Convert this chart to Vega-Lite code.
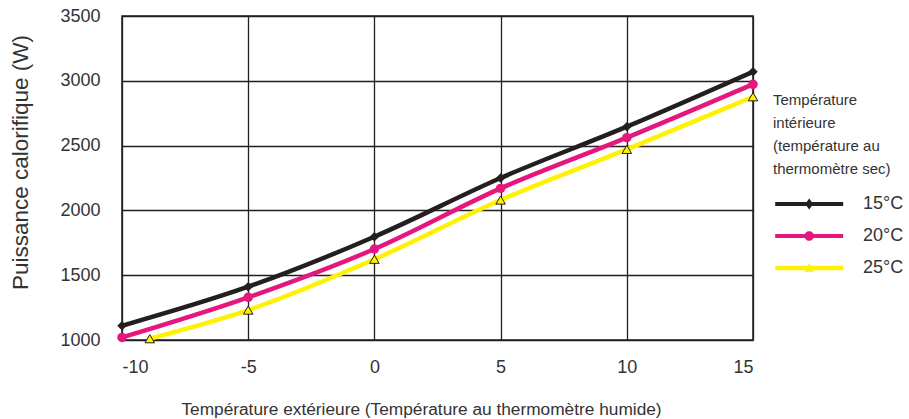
{
  "$schema": "https://vega.github.io/schema/vega-lite/v6.json",
  "width": 631,
  "height": 324,
  "autosize": "none",
  "padding": {"left": 122, "top": 16, "right": 156, "bottom": 79},
  "config": {
    "font": "Liberation Sans",
    "view": {"stroke": "#231f20", "strokeWidth": 1.5},
    "axis": {
      "grid": true,
      "gridColor": "#231f20",
      "gridWidth": 1.3,
      "gridOpacity": 1,
      "domain": false,
      "ticks": false,
      "labelFont": "Liberation Sans",
      "labelFontSize": 18,
      "labelColor": "#333333",
      "titleFont": "Liberation Sans",
      "titleFontWeight": "normal",
      "titleColor": "#333333"
    }
  },
  "data": {
    "values": [
      {"series": "15°C", "t_ext": -10, "power": 1110},
      {"series": "15°C", "t_ext": -5, "power": 1411},
      {"series": "15°C", "t_ext": 0, "power": 1797},
      {"series": "15°C", "t_ext": 5, "power": 2250},
      {"series": "15°C", "t_ext": 10, "power": 2646},
      {"series": "15°C", "t_ext": 15, "power": 3070},
      {"series": "20°C", "t_ext": -10, "power": 1020},
      {"series": "20°C", "t_ext": -5, "power": 1329},
      {"series": "20°C", "t_ext": 0, "power": 1702},
      {"series": "20°C", "t_ext": 5, "power": 2170},
      {"series": "20°C", "t_ext": 10, "power": 2561},
      {"series": "20°C", "t_ext": 15, "power": 2973},
      {"series": "25°C", "t_ext": -8.9, "power": 1010},
      {"series": "25°C", "t_ext": -5, "power": 1231},
      {"series": "25°C", "t_ext": 0, "power": 1623},
      {"series": "25°C", "t_ext": 5, "power": 2080},
      {"series": "25°C", "t_ext": 10, "power": 2471},
      {"series": "25°C", "t_ext": 15, "power": 2877}
    ]
  },
  "encoding": {
    "x": {
      "field": "t_ext",
      "type": "quantitative",
      "scale": {"domain": [-10, 15], "nice": false, "zero": false},
      "axis": {
        "values": [-10, -5, 0, 5, 10, 15],
        "labelExpr": "'' + datum.value",
        "labelPadding": 18,
        "title": "Température extérieure (Température au thermomètre humide)",
        "titleFontSize": 17.3,
        "titleX": 299,
        "titleY": 60
      }
    },
    "y": {
      "field": "power",
      "type": "quantitative",
      "scale": {"domain": [1000, 3500], "nice": false, "zero": false},
      "axis": {
        "values": [1000, 1500, 2000, 2500, 3000, 3500],
        "labelExpr": "'' + datum.value",
        "labelPadding": 22,
        "title": "Puissance calorifique (W)",
        "titleFontSize": 22.5,
        "titleX": -90,
        "titleY": 146
      }
    },
    "color": {
      "field": "series",
      "type": "nominal",
      "scale": {"domain": ["15°C", "20°C", "25°C"], "range": ["#231f20", "#e5177e", "#fff200"]},
      "legend": {
        "orient": "none",
        "legendX": 651,
        "legendY": 77,
        "title": ["Température", "intérieure", "(température au", "thermomètre sec)"],
        "titleFontSize": 15,
        "titleFontWeight": "normal",
        "titleColor": "#333333",
        "titleLineHeight": 23,
        "titlePadding": 18,
        "labelFontSize": 18,
        "labelColor": "#333333",
        "labelOffset": 72,
        "symbolSize": 185,
        "rowPadding": 14,
        "encode": {
          "symbols": {
            "update": {
              "shape": {"signal": "datum.value === '15°C' ? 'M-1,-0.3H9V0.3H-1Z M4,-0.8L4.6,0L4,0.8L3.4,0Z' : datum.value === '20°C' ? 'M-1,-0.3H9V0.3H-1Z M3.3,0A0.7,0.7 0 1,1 4.7,0A0.7,0.7 0 1,1 3.3,0Z' : 'M-1,-0.33H9V0.33H-1Z M4,-0.75L4.7,0.55L3.3,0.55Z'"},
              "fill": {"signal": "scale('color', datum.value)"},
              "stroke": {"value": "transparent"},
              "strokeWidth": {"value": 0},
              "opacity": {"value": 1}
            }
          }
        }
      }
    }
  },
  "layer": [
    {"mark": {"type": "line", "interpolate": "monotone", "strokeWidth": 4.5, "clip": true}},
    {
      "mark": {"type": "point", "filled": true, "opacity": 1, "stroke": "#231f20", "size": 90},
      "encoding": {
        "shape": {
          "condition": [
            {"test": "datum.series === '15°C'", "value": "diamond"},
            {"test": "datum.series === '20°C'", "value": "circle"}
          ],
          "value": "triangle-up"
        },
        "strokeWidth": {"condition": {"test": "datum.series === '25°C'", "value": 1}, "value": 0}
      }
    }
  ]
}
